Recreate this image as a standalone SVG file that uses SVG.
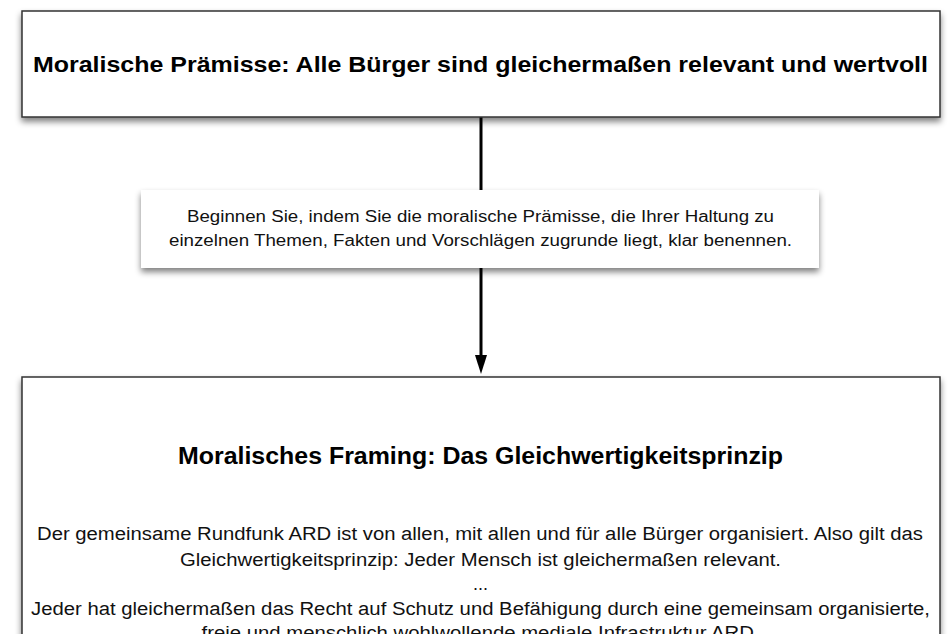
<svg xmlns="http://www.w3.org/2000/svg" width="951" height="634" viewBox="0 0 951 634">
<defs>
<filter id="sh" x="-10%" y="-20%" width="120%" height="150%">
<feGaussianBlur in="SourceAlpha" stdDeviation="3"/>
<feOffset dx="0" dy="4" result="b"/>
<feComponentTransfer><feFuncA type="linear" slope="0.5"/></feComponentTransfer>
<feMerge><feMergeNode/><feMergeNode in="SourceGraphic"/></feMerge>
</filter>
</defs>
<style>
.box{fill:#fff;stroke:#333;stroke-width:1.5}
.nb{fill:#fff;stroke:none}
.t{font-family:"Liberation Sans",Arial,sans-serif;fill:#000;text-anchor:middle}
.b{font-weight:bold;font-size:22px}
.s{font-size:16px;fill:#111}
.m{font-size:18px;fill:#111}
.c{stroke:#000;stroke-width:3;fill:none}
</style>
<rect width="951" height="634" fill="#fff"/>
<g id="connectors">
<line class="c" x1="481" y1="117" x2="481" y2="190"/>
<line class="c" x1="481" y1="268" x2="481" y2="356"/>
<path d="M475,355 L487,355 L481,374 Z" fill="#000"/>
</g>
<g id="node-premise">
<rect class="box" x="22" y="11" width="918" height="106" filter="url(#sh)"/>
<text class="t b" x="480.5" y="72" textLength="895" lengthAdjust="spacingAndGlyphs">Moralische Prämisse: Alle Bürger sind gleichermaßen relevant und wertvoll</text>
</g>
<g id="node-hint">
<rect class="nb" x="141" y="190" width="678" height="78" filter="url(#sh)"/>
<text class="t s" x="480.5" y="222" textLength="587" lengthAdjust="spacingAndGlyphs">Beginnen Sie, indem Sie die moralische Prämisse, die Ihrer Haltung zu</text>
<text class="t s" x="480.5" y="246" textLength="623" lengthAdjust="spacingAndGlyphs">einzelnen Themen, Fakten und Vorschlägen zugrunde liegt, klar benennen.</text>
</g>
<g id="node-framing">
<rect class="box" x="22" y="377" width="918" height="300" filter="url(#sh)"/>
<text class="t b" x="480.5" y="464" style="font-size:23px" textLength="605" lengthAdjust="spacingAndGlyphs">Moralisches Framing: Das Gleichwertigkeitsprinzip</text>
<text class="t m" x="480" y="540" textLength="886" lengthAdjust="spacingAndGlyphs">Der gemeinsame Rundfunk ARD ist von allen, mit allen und für alle Bürger organisiert. Also gilt das</text>
<text class="t m" x="480.5" y="566" textLength="601" lengthAdjust="spacingAndGlyphs">Gleichwertigkeitsprinzip: Jeder Mensch ist gleichermaßen relevant.</text>
<text class="t m" x="480.5" y="590">...</text>
<text class="t m" x="480.5" y="615" textLength="899" lengthAdjust="spacingAndGlyphs">Jeder hat gleichermaßen das Recht auf Schutz und Befähigung durch eine gemeinsam organisierte,</text>
<text class="t m" x="480.5" y="639" textLength="558" lengthAdjust="spacingAndGlyphs">freie und menschlich wohlwollende mediale Infrastruktur ARD.</text>
</g>
</svg>
